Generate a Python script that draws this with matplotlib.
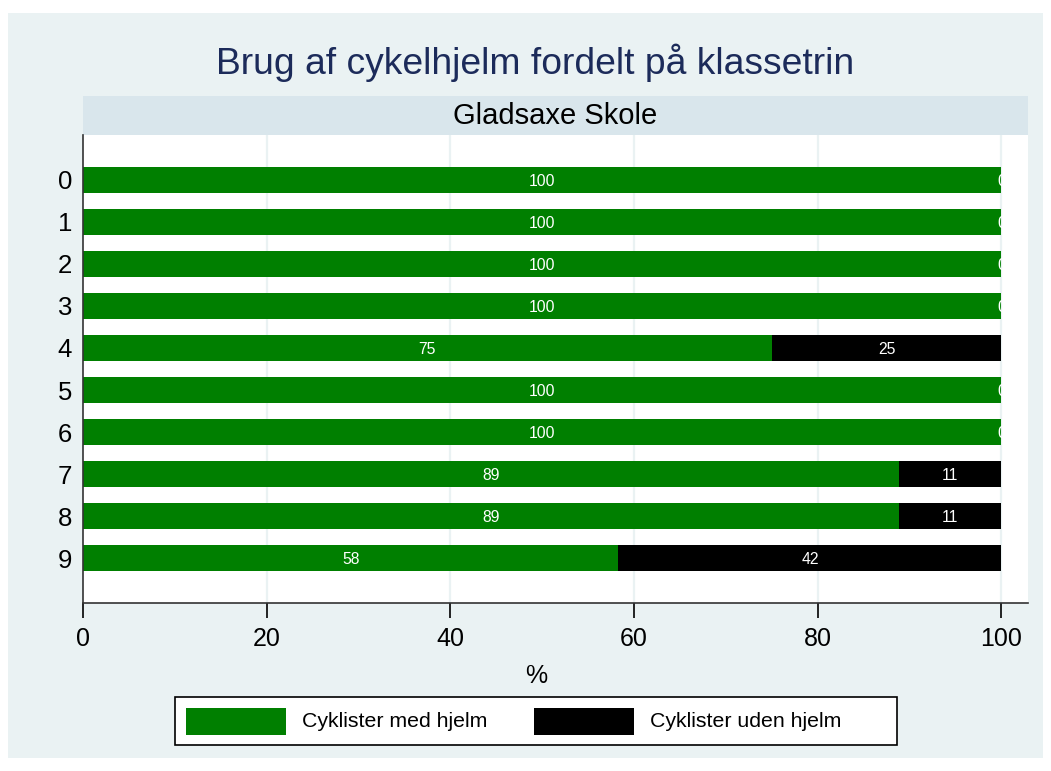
import matplotlib
matplotlib.use("Agg")
import matplotlib.pyplot as plt
from matplotlib.patches import Rectangle
import numpy as np

plt.rcParams['font.family'] = ['Liberation Sans', 'DejaVu Sans']

# ---- data ----
grades = ["0", "1", "2", "3", "4", "5", "6", "7", "8", "9"]
with_helmet = [100, 100, 100, 100, 75, 100, 100, 88.9, 88.9, 58.3]
without_helmet = [0, 0, 0, 0, 25, 0, 0, 11.1, 11.1, 41.7]
series_labels = ["Cyklister med hjelm", "Cyklister uden hjelm"]
series_colors = ["#007F00", "#000000"]
title = "Brug af cykelhjelm fordelt på klassetrin"
subtitle = "Gladsaxe Skole"
xlabel = "%"
xticks = [0, 20, 40, 60, 80, 100]

W, H = 1051, 771
fig = plt.figure(figsize=(W / 100, H / 100), dpi=100)
fig.patch.set_facecolor("white")

def fx(px):
    return px / W

def fy(py):
    return 1 - py / H

# graph region background
fig.patches.append(Rectangle((fx(8), fy(758)), fx(1043) - fx(8), fy(13) - fy(758),
                             transform=fig.transFigure, facecolor="#EAF2F3",
                             edgecolor="none", zorder=-2))
# strip
fig.patches.append(Rectangle((fx(83), fy(135)), fx(1028) - fx(83), fy(96) - fy(135),
                             transform=fig.transFigure, facecolor="#D9E6EC",
                             edgecolor="none", zorder=-1))
fig.text(fx(555), fy(124.3), subtitle, ha="center", va="baseline", fontsize=21, color="black")
fig.text(fx(535.5), fy(74), title, ha="center", va="baseline", fontsize=26.8, color="#1C2B5A")

ax = fig.add_axes([fx(83), fy(603), fx(1028) - fx(83), fy(135) - fy(603)])
ax.set_zorder(1)
ax.set_facecolor("white")
y = np.arange(len(grades))
h = 0.62
b1 = ax.barh(y, with_helmet, height=h, color=series_colors[0], zorder=2)
b2 = ax.barh(y, without_helmet, left=with_helmet, height=h, color=series_colors[1], zorder=2)

for i in range(len(grades)):
    ax.text(with_helmet[i] / 2, y[i], f"{with_helmet[i]:.0f}", ha="center",
            va="center_baseline", color="white", fontsize=11.3, zorder=3)
    ax.text(with_helmet[i] + without_helmet[i] / 2, y[i], f"{without_helmet[i]:.0f}",
            ha="center", va="center_baseline", color="white", fontsize=11.3, zorder=3,
            clip_on=True)

ax.set_xlim(0, 102.9)
ax.set_ylim(9 + 1.07, -1.07)
ax.set_yticks(y)
ax.set_yticklabels(grades, fontsize=18.5)
ax.tick_params(axis="y", length=0, pad=8)
ax.set_xticks(xticks)
ax.set_xticklabels([str(t) for t in xticks], fontsize=18)
ax.tick_params(axis="x", length=11, width=1.2, pad=6, direction="out")
for t in xticks[1:]:
    ax.axvline(t, color="#EAF2F3", lw=1.6, zorder=1)
for s in ["top", "right"]:
    ax.spines[s].set_visible(False)
ax.spines["left"].set_linewidth(1.2)
ax.spines["bottom"].set_linewidth(1.2)
ax.spines["left"].set_color("#333333")
ax.spines["bottom"].set_color("#333333")

fig.text(fx(536), fy(676), xlabel, ha="center", va="center", fontsize=18)

# legend (manual, Stata-like)
fig.patches.append(Rectangle((fx(175), fy(745)), fx(897) - fx(175), fy(697) - fy(745),
                             transform=fig.transFigure, facecolor="white",
                             edgecolor="black", lw=1.2, zorder=2))
patch_x = [186, 534]
text_x = [302, 650]
for i in range(2):
    fig.patches.append(Rectangle((fx(patch_x[i]), fy(735)), fx(100), fy(708) - fy(735),
                                 transform=fig.transFigure, facecolor=series_colors[i],
                                 edgecolor="none", zorder=3))
    fig.text(fx(text_x[i]), fy(721.5), series_labels[i], ha="left", va="center",
             fontsize=15.3, zorder=4)

fig.savefig("out.png", dpi=100, facecolor=fig.get_facecolor())
